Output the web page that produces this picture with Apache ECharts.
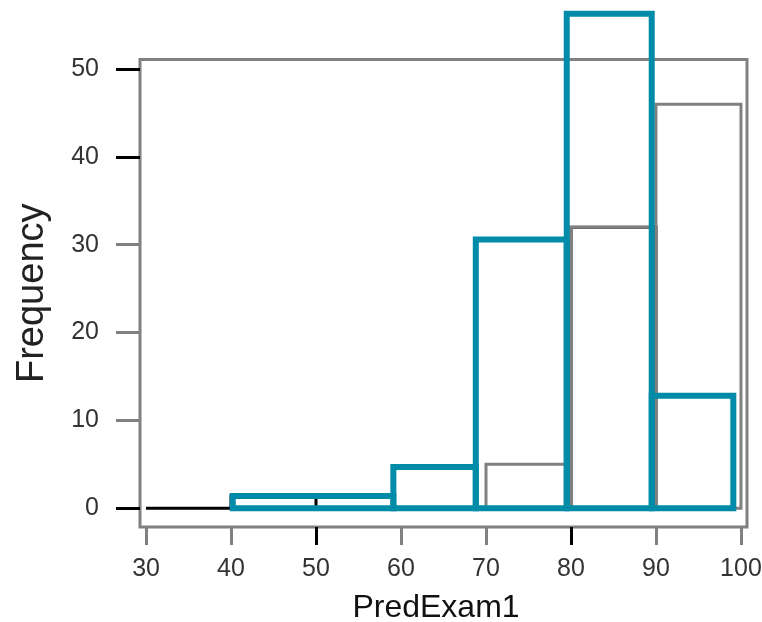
<!DOCTYPE html>
<html>
<head>
<meta charset="utf-8">
<script src="https://cdn.jsdelivr.net/npm/echarts@6/dist/echarts.min.js"></script>
<style>
html,body{margin:0;padding:0;background:#fff;}
#chart{width:762px;height:622px;}
</style>
</head>
<body>
<div id="chart"></div>
<script>
// Teal histogram (bin edges and heights)
const tealEdges = [40.2, 59.1, 68.8, 79.5, 89.5, 99.1];
const tealCounts = [1.4, 4.7, 30.6, 56.3, 12.8];
// Gray histogram
const grayEdges = [70, 80, 90, 100];
const grayCounts = [5, 32, 46];
// Black histogram (mostly hidden underneath)
const blackEdges = [30, 40, 50, 60, 70, 80, 90];
const blackCounts = [0, 1.4, 0, 0, 0, 32];
// Tick labels
const xTicks = [30, 40, 50, 60, 70, 80, 90, 100];
const yTicks = [0, 10, 20, 30, 40, 50];
const xTicksDark = [50, 80];
const yTicksDark = [0, 40, 50];

function bins(edges, counts) {
  return counts.map((c, i) => [edges[i], edges[i + 1], c]);
}

function histSeries(name, edges, counts, color, width, z) {
  return {
    type: 'custom',
    name: name,
    clip: false,
    z: z,
    data: bins(edges, counts),
    encode: { x: [0, 1], y: 2 },
    renderItem: function (params, api) {
      const p0 = api.coord([api.value(0), 0]);
      const p1 = api.coord([api.value(1), api.value(2)]);
      return {
        type: 'rect',
        shape: { x: p0[0], y: p1[1], width: p1[0] - p0[0], height: p0[1] - p1[1] },
        style: { fill: 'none', stroke: color, lineWidth: width }
      };
    }
  };
}

const FONT = '"Liberation Sans", Arial, Helvetica, sans-serif';
const chart = echarts.init(document.getElementById('chart'), null, { renderer: 'canvas' });

const xMin = 29.29, xMax = 100.71, yMin = -2.13, yMax = 51.08;

chart.setOption({
  animation: false,
  backgroundColor: '#ffffff',
  grid: {
    left: 140, right: 15, top: 59.5, bottom: 95,
    outerBoundsMode: 'none', containLabel: false,
    show: true, borderColor: '#808080', borderWidth: 3, backgroundColor: 'transparent'
  },
  xAxis: [{
    type: 'value', min: xMin, max: xMax,
    splitLine: { show: false },
    axisLine: { show: false, onZero: false },
    axisTick: { show: true, length: 18, customValues: xTicks, lineStyle: { color: '#808080', width: 3 } },
    axisLabel: { customValues: xTicks, margin: 30, fontSize: 25, fontFamily: FONT, color: '#333' },
    name: 'PredExam1', nameLocation: 'middle', nameGap: 65,
    nameTextStyle: { fontSize: 32, fontFamily: FONT, color: '#111', padding: [0, 15, 0, 0] }
  }, {
    type: 'value', min: xMin, max: xMax, position: 'bottom',
    splitLine: { show: false },
    axisLine: { show: false, onZero: false },
    axisTick: { show: true, length: 18, customValues: xTicksDark, lineStyle: { color: '#000', width: 3 } },
    axisLabel: { show: false }
  }],
  yAxis: [{
    type: 'value', min: yMin, max: yMax,
    splitLine: { show: false },
    axisLine: { show: false, onZero: false },
    axisTick: { show: true, length: 24, customValues: yTicks, lineStyle: { color: '#808080', width: 3 } },
    axisLabel: { customValues: yTicks, margin: 41, fontSize: 25, fontFamily: FONT, color: '#333' },
    name: 'Frequency', nameLocation: 'middle', nameGap: 88, nameRotate: 90,
    nameTextStyle: { fontSize: 38, fontFamily: FONT, color: '#222' }
  }, {
    type: 'value', min: yMin, max: yMax, position: 'left',
    splitLine: { show: false },
    axisLine: { show: false, onZero: false },
    axisTick: { show: true, length: 24, customValues: yTicksDark, lineStyle: { color: '#000', width: 3 } },
    axisLabel: { show: false }
  }],
  series: [
    histSeries('black', blackEdges, blackCounts, '#000000', 3, 2),
    histSeries('gray', grayEdges, grayCounts, '#808080', 3, 3),
    histSeries('teal', tealEdges, tealCounts, '#008CA8', 6, 4)
  ]
});
</script>
</body>
</html>
